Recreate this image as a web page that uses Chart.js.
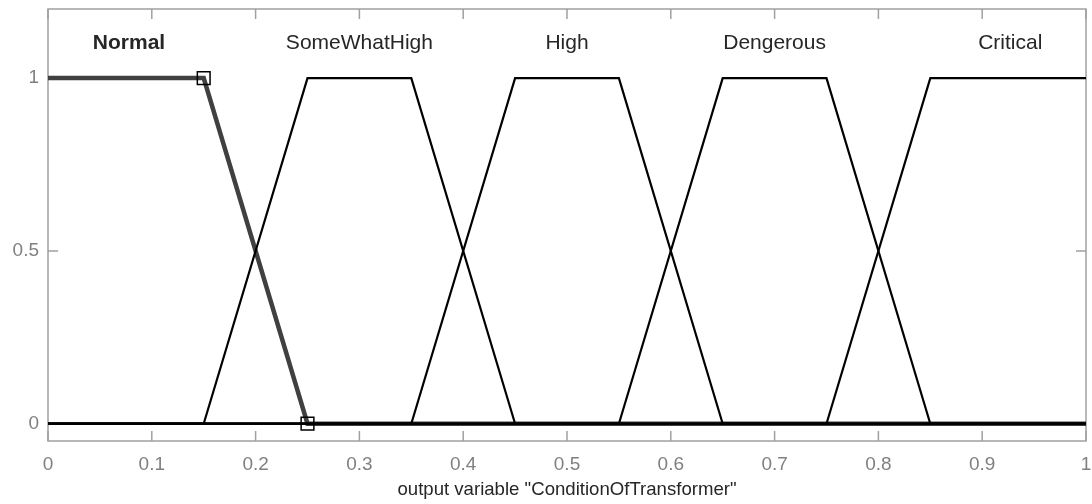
<!DOCTYPE html>
<html>
<head>
<meta charset="utf-8">
<script src="https://cdn.jsdelivr.net/npm/chart.js@4/dist/chart.umd.min.js"></script>
<style>
  html, body { margin: 0; padding: 0; background: #ffffff; }
  #wrap { width: 1092px; height: 504px; }
</style>
</head>
<body>
<div id="wrap"><canvas id="c" width="1092" height="504"></canvas></div>
<script>
// ---- Data (membership functions of output variable "ConditionOfTransformer") ----
const mfNames = ["Normal", "SomeWhatHigh", "High", "Dengerous", "Critical"];
const normalX       = [0, 0.15, 0.25, 1];
const normalY       = [1, 1, 0, 0];
const someWhatHighX = [0, 0.15, 0.25, 0.35, 0.45, 1];
const someWhatHighY = [0, 0, 1, 1, 0, 0];
const highX         = [0, 0.35, 0.45, 0.55, 0.65, 1];
const highY         = [0, 0, 1, 1, 0, 0];
const dengerousX    = [0, 0.55, 0.65, 0.75, 0.85, 1];
const dengerousY    = [0, 0, 1, 1, 0, 0];
const criticalX     = [0, 0.75, 0.85, 1];
const criticalY     = [0, 0, 1, 1];
const labelX        = [0.078, 0.3, 0.5, 0.7, 0.927];
const labelY        = [1.1, 1.1, 1.1, 1.1, 1.1];
const xTicks        = [0, 0.1, 0.2, 0.3, 0.4, 0.5, 0.6, 0.7, 0.8, 0.9, 1];
const yTicks        = [0, 0.5, 1];
const xTitle        = 'output variable "ConditionOfTransformer"';

const pts = (xs, ys) => xs.map((x, i) => ({ x: x, y: ys[i] }));

const FONT = "'Liberation Sans', Arial, Helvetica, sans-serif";
const AXIS_COLOR = '#a0a0a0';
const TICK_TEXT = '#808080';
const TEXT = '#262626';

const decorPlugin = {
  id: 'decor',
  beforeDatasetsDraw(chart) {
    const { ctx, chartArea: a, scales: { x, y } } = chart;
    ctx.save();
    ctx.strokeStyle = AXIS_COLOR;
    ctx.lineWidth = 1.5;
    ctx.strokeRect(a.left, a.top, a.right - a.left, a.bottom - a.top);
    const TL = 10;
    ctx.beginPath();
    xTicks.forEach(v => {
      const px = x.getPixelForValue(v);
      ctx.moveTo(px, a.bottom); ctx.lineTo(px, a.bottom - TL);
      ctx.moveTo(px, a.top); ctx.lineTo(px, a.top + TL);
    });
    yTicks.forEach(v => {
      const py = y.getPixelForValue(v);
      ctx.moveTo(a.left, py); ctx.lineTo(a.left + TL, py);
      ctx.moveTo(a.right, py); ctx.lineTo(a.right - TL, py);
    });
    ctx.stroke();
    // MF labels
    ctx.fillStyle = TEXT;
    ctx.textAlign = 'center';
    ctx.textBaseline = 'middle';
    mfNames.forEach((name, i) => {
      ctx.font = (i === 0 ? 'bold ' : '') + '21px ' + FONT;
      ctx.fillText(name, x.getPixelForValue(labelX[i]), y.getPixelForValue(labelY[i]));
    });
    ctx.restore();
  }
};

const blackLine = (label, data) => ({
  label: label,
  data: data,
  borderColor: '#000000',
  borderWidth: 2.2,
  pointRadius: 0,
  fill: false,
  tension: 0,
  order: 0
});

new Chart(document.getElementById('c'), {
  type: 'line',
  data: {
    datasets: [
      {
        label: mfNames[0],
        data: pts(normalX, normalY),
        borderColor: '#404040',
        borderWidth: 4.5,
        pointRadius: [0, 9, 9, 0],
        pointStyle: 'rect',
        pointBackgroundColor: 'rgba(0,0,0,0)',
        pointBorderColor: '#000000',
        pointBorderWidth: 1.5,
        fill: false,
        tension: 0,
        order: 1
      },
      blackLine(mfNames[1], pts(someWhatHighX, someWhatHighY)),
      blackLine(mfNames[2], pts(highX, highY)),
      blackLine(mfNames[3], pts(dengerousX, dengerousY)),
      blackLine(mfNames[4], pts(criticalX, criticalY))
    ]
  },
  options: {
    responsive: false,
    devicePixelRatio: 1,
    animation: false,
    layout: { padding: { top: 9, right: 6, left: 0, bottom: 0 } },
    plugins: { legend: { display: false }, tooltip: { enabled: false } },
    scales: {
      x: {
        type: 'linear',
        min: 0, max: 1,
        grid: { display: false, drawTicks: false },
        border: { display: false },
        afterBuildTicks: s => { s.ticks = xTicks.map(v => ({ value: v })); },
        afterFit: s => { s.height = 63; s.paddingLeft = 0; s.paddingRight = 0; },
        ticks: {
          color: TICK_TEXT,
          font: { family: FONT, size: 19 },
          padding: 12,
          maxRotation: 0,
          autoSkip: false,
          callback: v => String(Number(v.toFixed(2)))
        },
        title: {
          display: true,
          text: xTitle,
          color: TEXT,
          font: { family: FONT, size: 18.6 },
          padding: { top: 0, bottom: 3 }
        }
      },
      y: {
        type: 'linear',
        min: -0.05, max: 1.2,
        grid: { display: false, drawTicks: false },
        border: { display: false },
        afterBuildTicks: s => { s.ticks = yTicks.map(v => ({ value: v })); },
        afterFit: s => { s.width = 48; s.paddingTop = 0; s.paddingBottom = 0; },
        ticks: {
          color: TICK_TEXT,
          font: { family: FONT, size: 19 },
          padding: 9,
          callback: v => String(v)
        }
      }
    }
  },
  plugins: [decorPlugin]
});
</script>
</body>
</html>
